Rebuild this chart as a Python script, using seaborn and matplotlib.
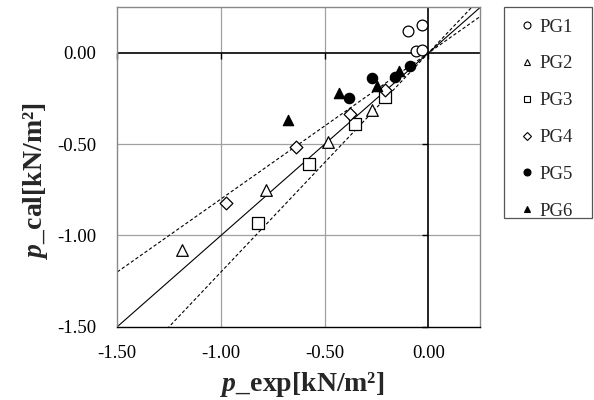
import matplotlib
matplotlib.use("Agg")
import matplotlib.pyplot as plt
from matplotlib.lines import Line2D
from matplotlib.patches import Rectangle
import numpy as np
import pandas as pd
import seaborn as sns

sns.set_theme(style="white")
plt.rcParams["font.family"] = ["Liberation Serif", "DejaVu Serif"]
plt.rcParams["axes.unicode_minus"] = False
plt.rcParams["mathtext.fontset"] = "custom"
plt.rcParams["mathtext.rm"] = "Liberation Serif"
plt.rcParams["mathtext.it"] = "Liberation Serif:italic"
plt.rcParams["mathtext.bf"] = "Liberation Serif:bold"
plt.rcParams["mathtext.bfit"] = "Liberation Serif:italic:bold"

# measured vs calculated pressure for each specimen group
pg1_exp = [-0.10, -0.03, -0.06, -0.03]
pg1_cal = [0.12, 0.155, 0.01, 0.015]
pg2_exp = [-0.27, -0.485, -0.785, -1.19]
pg2_cal = [-0.31, -0.49, -0.75, -1.08]
pg3_exp = [-0.21, -0.355, -0.575, -0.82]
pg3_cal = [-0.24, -0.39, -0.61, -0.93]
pg4_exp = [-0.21, -0.38, -0.64, -0.975]
pg4_cal = [-0.205, -0.335, -0.515, -0.82]
pg5_exp = [-0.09, -0.16, -0.27, -0.385]
pg5_cal = [-0.07, -0.13, -0.135, -0.245]
pg6_exp = [-0.14, -0.25, -0.43, -0.675]
pg6_cal = [-0.10, -0.18, -0.22, -0.37]

groups = ["PG1", "PG2", "PG3", "PG4", "PG5", "PG6"]
exp_values = [pg1_exp, pg2_exp, pg3_exp, pg4_exp, pg5_exp, pg6_exp]
cal_values = [pg1_cal, pg2_cal, pg3_cal, pg4_cal, pg5_cal, pg6_cal]

# reference lines p_cal = k * p_exp (1:1 and +/-20 %)
ratio_solid = [1.0]
ratio_dashed = [0.8, 1.2]

ticks = [-1.5, -1.0, -0.5, 0.0]
axis_min, axis_max = -1.5, 0.25

markers = ["o", "^", "s", "D", "o", "^"]
faces = ["white", "white", "white", "white", "black", "black"]
sizes = [60, 70, 75, 42, 55, 55]

frames = []
for g, xs, ys in zip(groups, exp_values, cal_values):
    frames.append(pd.DataFrame({"group": g, "p_exp": xs, "p_cal": ys}))
df = pd.concat(frames, ignore_index=True)

W, H = 594, 400
fig = plt.figure(figsize=(W / 100, H / 100), dpi=100)
ax = fig.add_axes([117.3 / W, 1 - 326.7 / H, 363 / W, 319.4 / H])

ax.set_xlim(axis_min, axis_max)
ax.set_ylim(axis_min, axis_max)

# grid and zero axes
for t in ticks[1:3]:
    ax.axvline(t, color="#a0a0a0", lw=0.9, zorder=0)
    ax.axhline(t, color="#a0a0a0", lw=0.9, zorder=0)
ax.axvline(0, color="black", lw=1.2, zorder=1)
ax.axhline(0, color="black", lw=1.2, zorder=1)
ax.plot([0] * len(ticks), ticks, ls="none", marker=0, ms=4, mew=1.0,
        color="black", zorder=1, clip_on=False)
ax.plot(ticks, [0] * len(ticks), ls="none", marker=3, ms=4, mew=1.0,
        color="black", zorder=1, clip_on=False)

line_x = np.array([axis_min, axis_max])
for k in ratio_solid:
    ax.plot(line_x, k * line_x, color="black", lw=0.8, zorder=2)
for k in ratio_dashed:
    ax.plot(line_x, k * line_x, color="black", lw=0.8, ls=(0, (3, 2)), zorder=2)

for g, m, fc, s in zip(groups, markers, faces, sizes):
    sub = df[df["group"] == g]
    sns.scatterplot(data=sub, x="p_exp", y="p_cal", marker=m, s=s,
                    facecolor=fc, edgecolor="black", linewidth=0.9,
                    ax=ax, zorder=3, legend=False)

ax.set_xticks(ticks)
ax.set_yticks(ticks)
ax.set_xticklabels([f"{t:.2f}" for t in ticks])
ax.set_yticklabels([f"{t:.2f}" for t in ticks])
ax.tick_params(axis="both", length=0, labelsize=13.5, colors="black")
ax.tick_params(axis="x", pad=13)
ax.tick_params(axis="y", pad=15)

for side in ["top", "right", "left"]:
    ax.spines[side].set_color("#888888")
    ax.spines[side].set_linewidth(1.0)
ax.spines["bottom"].set_color("black")
ax.spines["bottom"].set_linewidth(1.0)

ax.set_xlabel(r"$\mathbfit{p}$_exp[kN/m²]", fontsize=20, fontweight="bold")
ax.set_ylabel(r"$\mathbfit{p}$_cal[kN/m²]", fontsize=20, fontweight="bold")
ax.xaxis.set_label_coords(0.508, -0.135)
ax.yaxis.set_label_coords(-0.185, 0.456)

# legend box on the right
fig.patches.append(Rectangle((504 / W, 1 - 218 / H), 88 / W, 211 / H,
                             transform=fig.transFigure, fill=False,
                             edgecolor="#555555", lw=0.9))
handles = [Line2D([], [], ls="none", marker=m, ms=5 if m != "D" else 4,
                  markerfacecolor=fc, markeredgecolor="black", mew=0.8)
           for m, fc in zip(markers, faces)]
fig.legend(handles, groups, loc="upper left",
           bbox_to_anchor=(519 / W, 1 - 18.5 / H),
           frameon=False, fontsize=13.5, labelspacing=1.05, handlelength=0.8,
           handletextpad=0.3, borderpad=0, borderaxespad=0)

fig.savefig("out.png", dpi=100)
